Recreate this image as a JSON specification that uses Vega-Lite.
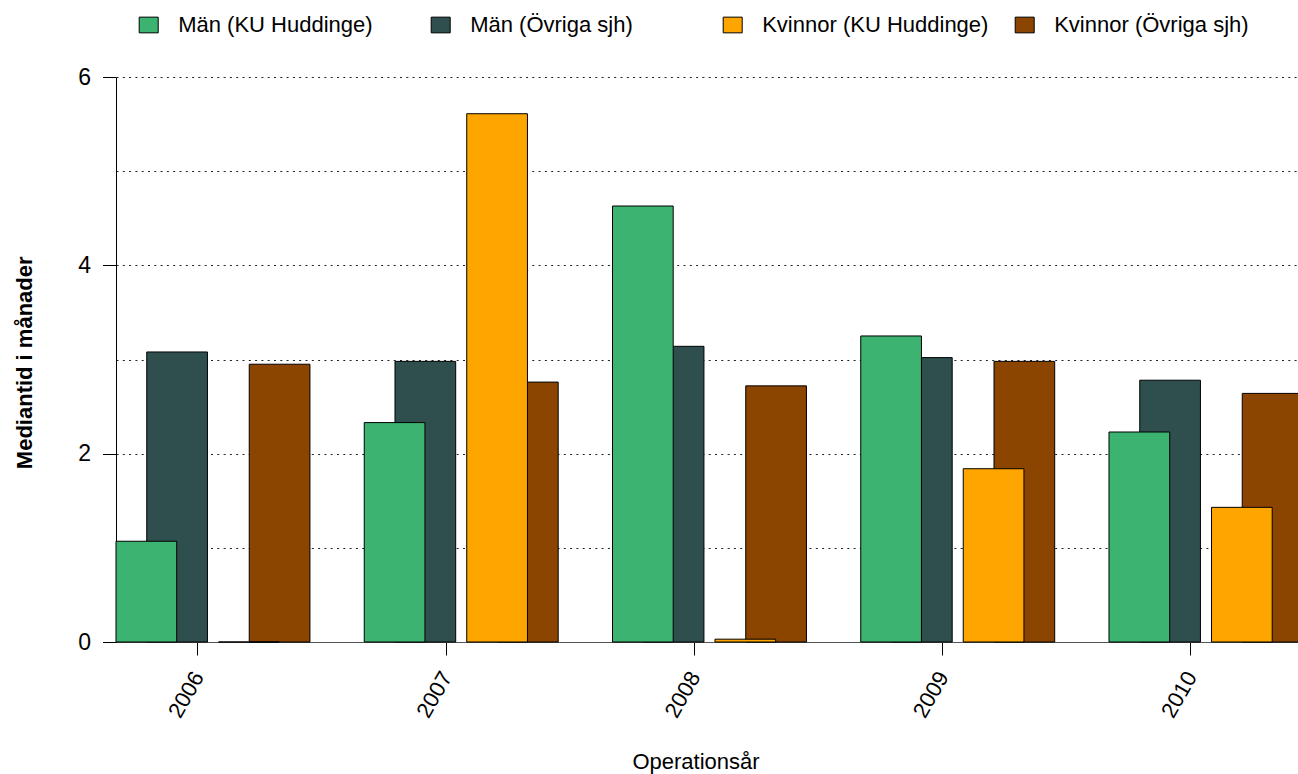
{
  "$schema": "https://vega.github.io/schema/vega-lite/v6.json",
  "width": 1182,
  "height": 565,
  "autosize": {"type": "none"},
  "padding": {"left": 116, "top": 77, "right": 0, "bottom": 132},
  "background": "white",
  "config": {
    "font": "Liberation Sans",
    "view": {"stroke": null},
    "axis": {"labelColor": "black", "titleColor": "black", "tickColor": "black", "domainColor": "black", "labelFont": "Liberation Sans", "titleFont": "Liberation Sans"}
  },
  "data": {
    "values": [
      {"year": 2006, "group": "Män (Övriga sjh)", "value": 3.08},
      {"year": 2007, "group": "Män (Övriga sjh)", "value": 2.98},
      {"year": 2008, "group": "Män (Övriga sjh)", "value": 3.14},
      {"year": 2009, "group": "Män (Övriga sjh)", "value": 3.02},
      {"year": 2010, "group": "Män (Övriga sjh)", "value": 2.78},
      {"year": 2006, "group": "Kvinnor (Övriga sjh)", "value": 2.95},
      {"year": 2007, "group": "Kvinnor (Övriga sjh)", "value": 2.76},
      {"year": 2008, "group": "Kvinnor (Övriga sjh)", "value": 2.72},
      {"year": 2009, "group": "Kvinnor (Övriga sjh)", "value": 2.98},
      {"year": 2010, "group": "Kvinnor (Övriga sjh)", "value": 2.64},
      {"year": 2006, "group": "Män (KU Huddinge)", "value": 1.07},
      {"year": 2007, "group": "Män (KU Huddinge)", "value": 2.33},
      {"year": 2008, "group": "Män (KU Huddinge)", "value": 4.63},
      {"year": 2009, "group": "Män (KU Huddinge)", "value": 3.25},
      {"year": 2010, "group": "Män (KU Huddinge)", "value": 2.23},
      {"year": 2006, "group": "Kvinnor (KU Huddinge)", "value": 0},
      {"year": 2007, "group": "Kvinnor (KU Huddinge)", "value": 5.61},
      {"year": 2008, "group": "Kvinnor (KU Huddinge)", "value": 0.03},
      {"year": 2009, "group": "Kvinnor (KU Huddinge)", "value": 1.84},
      {"year": 2010, "group": "Kvinnor (KU Huddinge)", "value": 1.43}
    ]
  },
  "mark": {"type": "bar", "stroke": "black", "strokeWidth": 1, "width": {"band": 5.922}, "opacity": 1},
  "encoding": {
    "x": {
      "field": "year",
      "type": "ordinal",
      "scale": {"range": [0, 1241.25], "paddingInner": 0, "paddingOuter": 0},
      "axis": {
        "title": "Operationsår",
        "titleFontSize": 22,
        "titleFontWeight": "normal",
        "titleX": 579.5,
        "titleY": 126,
        "titleAlign": "center",
        "titleBaseline": "alphabetic",
        "labelAngle": -60,
        "labelAlign": "right",
        "labelBaseline": "middle",
        "labelFontSize": 22,
        "labelPadding": 18,
        "labelOffset": -41.5,
        "tickSize": 13,
        "tickWidth": 1,
        "domain": true,
        "domainColor": "#555555",
        "bandPosition": 0.33,
        "grid": false
      }
    },
    "xOffset": {
      "field": "group",
      "scale": {
        "domain": ["Män (KU Huddinge)", "_a", "_b", "Män (Övriga sjh)", "_c", "_d", "_e", "_f", "_g", "_h", "Kvinnor (KU Huddinge)", "_i", "_j", "Kvinnor (Övriga sjh)"],
        "range": [610.94, 754.44],
        "paddingInner": 0,
        "paddingOuter": 0
      }
    },
    "y": {
      "field": "value",
      "type": "quantitative",
      "stack": null,
      "scale": {"domain": [0, 6], "nice": false, "zero": true},
      "axis": {
        "title": "Mediantid i månader",
        "titleFontSize": 22,
        "titleFontWeight": "bold",
        "titleAngle": -90,
        "titleX": -84.3,
        "titleY": 285.3,
        "titleAlign": "center",
        "titleBaseline": "alphabetic",
        "values": [0, 1, 2, 3, 4, 5, 6],
        "labelExpr": "datum.value % 2 === 0 ? datum.label : ''",
        "labelOverlap": false,
        "labelFontSize": 23,
        "labelPadding": 12,
        "labelBaseline": "middle",
        "tickSize": 13.5,
        "tickWidth": 1,
        "tickOpacity": {"condition": {"test": "datum.value % 2 === 1", "value": 0}, "value": 1},
        "grid": true,
        "gridColor": "#222222",
        "gridDash": [2, 4.3],
        "gridWidth": 1,
        "gridOpacity": {"condition": {"test": "datum.value === 0", "value": 0}, "value": 1}
      }
    },
    "color": {
      "field": "group",
      "type": "nominal",
      "scale": {
        "domain": ["Män (KU Huddinge)", "Män (Övriga sjh)", "Kvinnor (KU Huddinge)", "Kvinnor (Övriga sjh)"],
        "range": ["#3CB371", "#2F4F4F", "#FFA500", "#8B4500"]
      },
      "legend": {
        "title": null,
        "orient": "none",
        "legendX": 21.7,
        "legendY": -63,
        "direction": "horizontal",
        "columns": 4,
        "gridAlign": "all",
        "columnPadding": 24,
        "padding": 0,
        "symbolType": "M-1,-0.826H1V0.826H-1Z",
        "symbolSize": 361,
        "symbolStrokeColor": "black",
        "symbolStrokeWidth": 1,
        "symbolOpacity": 1,
        "labelFontSize": 22,
        "labelFont": "Liberation Sans",
        "labelColor": "black",
        "labelOffset": 18.5,
        "labelLimit": 400
      }
    }
  }
}
